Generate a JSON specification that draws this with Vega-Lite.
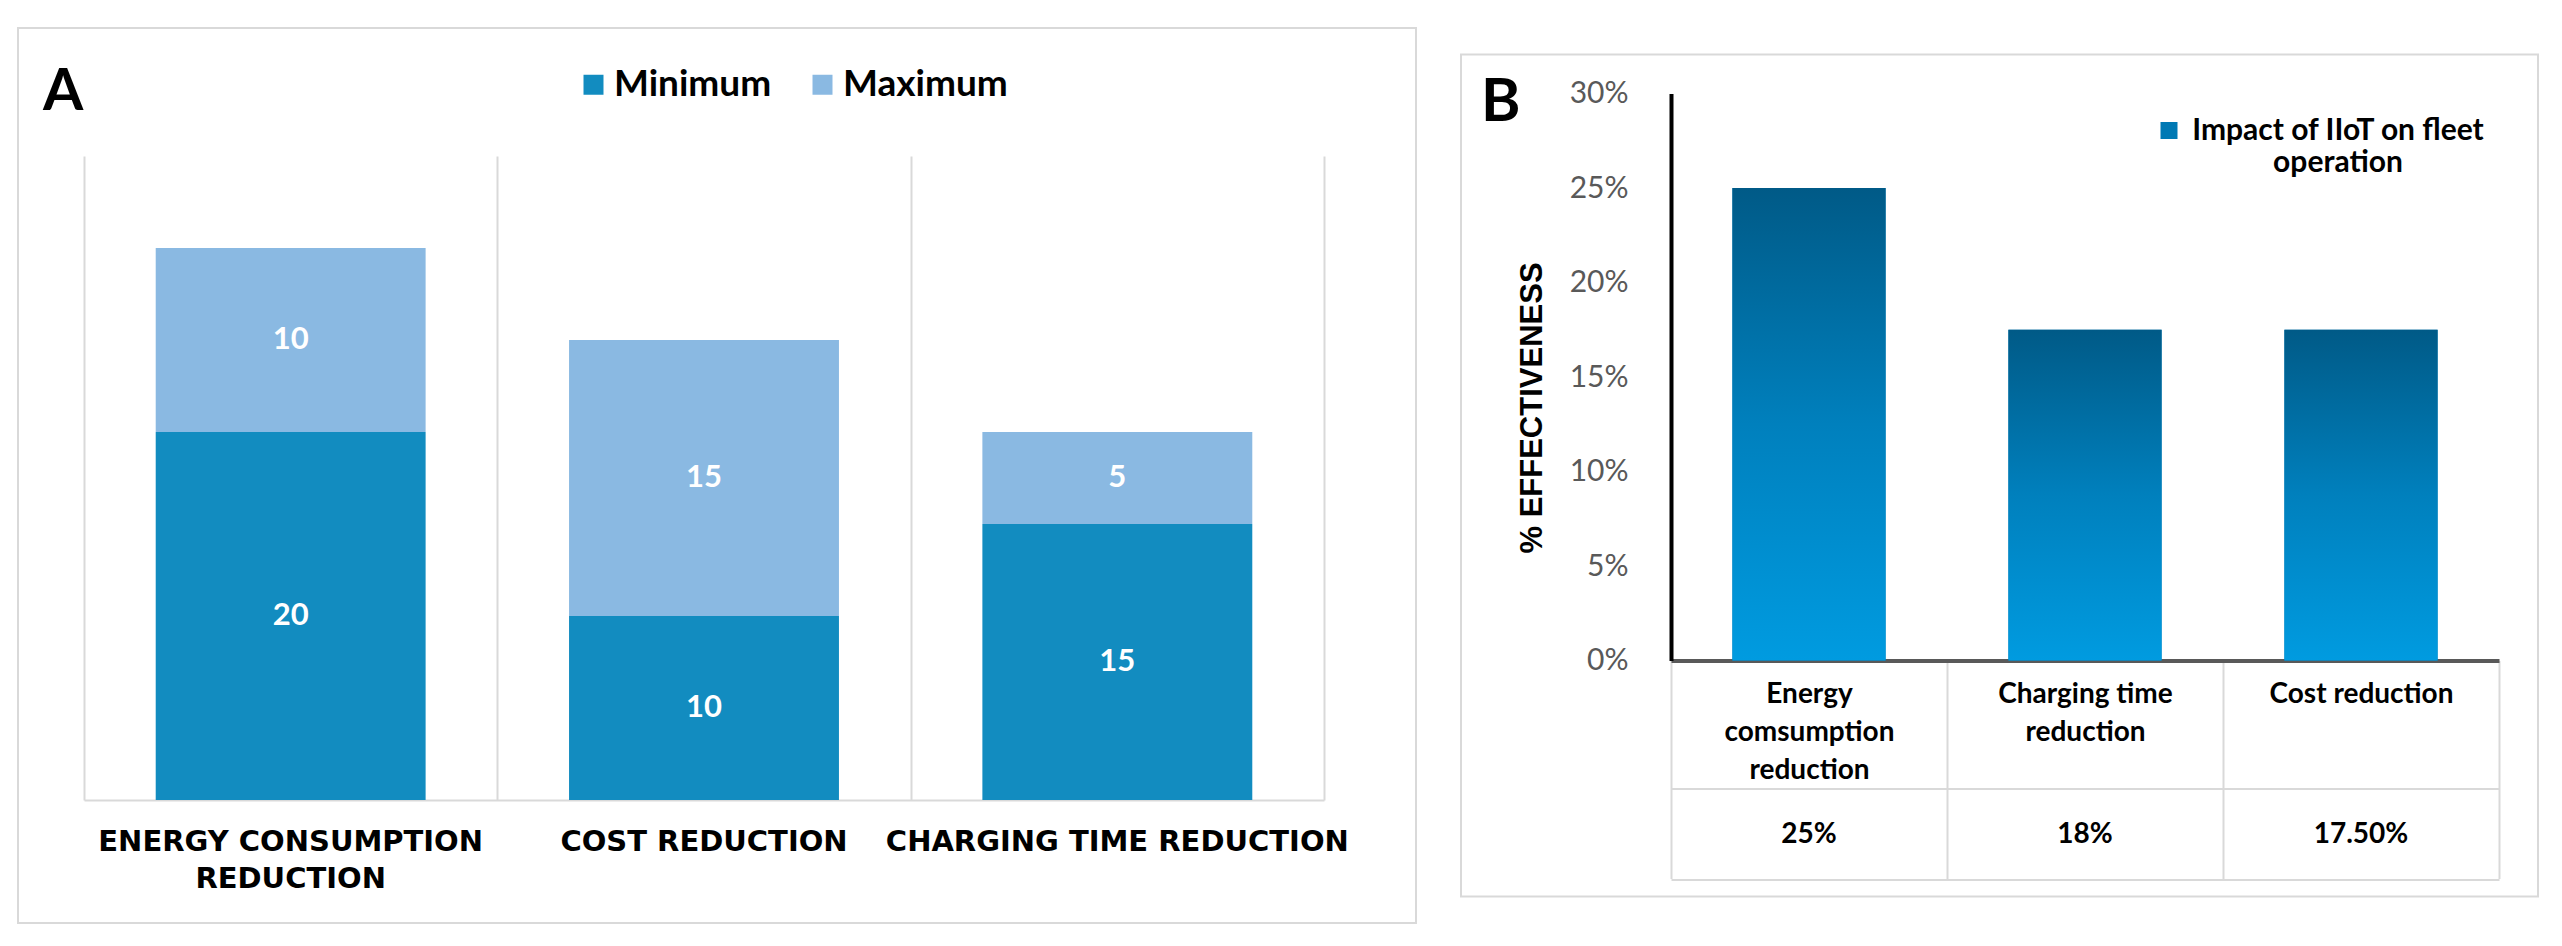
{
  "$schema": "https://vega.github.io/schema/vega-lite/v6.json",
  "padding": {"left": 17, "top": 27, "right": 0, "bottom": 0},
  "background": "white",
  "config": {"view": {"stroke": "#d9d9d9", "strokeWidth": 2}, "font": "Lato"},
  "spacing": 45,
  "bounds": "flush",
  "center": true,
  "resolve": {"scale": {"color": "independent"}, "legend": {"color": "independent"}},
  "hconcat": [
    {
      "width": 1398,
      "height": 895,
      "title": {"text": "A", "anchor": "start", "frame": "group", "font": "Lato", "fontSize": 58, "fontWeight": "bold", "color": "#000000", "offset": -36, "dx": 25, "dy": 58, "baseline": "top"},
      "data": {"values": [
        {"cat": "ENERGY CONSUMPTION REDUCTION", "series": "Minimum", "value": 20},
        {"cat": "ENERGY CONSUMPTION REDUCTION", "series": "Maximum", "value": 10},
        {"cat": "COST REDUCTION", "series": "Minimum", "value": 10},
        {"cat": "COST REDUCTION", "series": "Maximum", "value": 15},
        {"cat": "CHARGING TIME REDUCTION", "series": "Minimum", "value": 15},
        {"cat": "CHARGING TIME REDUCTION", "series": "Maximum", "value": 5}
      ]},
      "layer": [
        {
          "mark": {"type": "bar", "width": {"band": 0.653}},
          "encoding": {
            "x": {"field": "cat", "type": "nominal", "sort": null,
              "scale": {"range": [66, 1306], "paddingInner": 0, "paddingOuter": 0},
              "axis": {"orient": "bottom", "offset": -123, "title": null, "labels": false, "grid": false,
                "domain": true, "domainColor": "#d9d9d9", "domainWidth": 2,
                "ticks": true, "tickBand": "extent", "tickSize": -644, "tickColor": "#d9d9d9", "tickWidth": 2}},
            "y": {"field": "value", "type": "quantitative", "stack": "zero",
              "scale": {"domain": [0, 35], "range": [772, 128], "nice": false}, "axis": null},
            "order": {"field": "series", "sort": "descending"},
            "color": {"field": "series", "type": "nominal", "sort": ["Minimum", "Maximum"],
              "scale": {"domain": ["Minimum", "Maximum"], "range": ["#128cc0", "#8ab9e2"]},
              "legend": {"orient": "none", "legendX": 557, "legendY": 38, "direction": "horizontal", "title": null,
                "symbolType": "square", "symbolSize": 400, "symbolStrokeWidth": 0,
                "labelFont": "Lato", "labelFontWeight": "bold", "labelFontSize": 37, "labelColor": "#000000",
                "labelOffset": 2, "columnPadding": 32, "padding": 0, "labelLimit": 0}}
          }
        },
        {
          "mark": {"type": "text", "color": "#ffffff", "font": "Lato", "fontWeight": "bold", "fontSize": 31, "baseline": "middle"},
          "encoding": {
            "x": {"field": "cat", "type": "nominal", "sort": null,
              "axis": {"orient": "bottom", "offset": -123, "title": null, "domain": false, "ticks": false, "grid": false,
                "labelPadding": 27, "labelBaseline": "top", "labelAngle": 0, "labelLimit": 0,
                "labelFont": "DejaVu Sans", "labelFontWeight": "bold", "labelFontSize": 29, "labelColor": "#000000",
                "labelLineHeight": 37,
                "labelExpr": "length(datum.value) > 24 ? [slice(datum.value, 0, lastindexof(datum.value, ' ')), slice(datum.value, lastindexof(datum.value, ' ') + 1)] : datum.value"}},
            "y": {"field": "value", "type": "quantitative", "stack": "zero", "bandPosition": 0.5, "axis": null},
            "detail": {"field": "series"},
            "order": {"field": "series", "sort": "descending"},
            "text": {"field": "value", "type": "quantitative"}
          }
        }
      ],
      "resolve": {"axis": {"x": "independent"}}
    },
    {
      "width": 1077,
      "height": 842,
      "title": {"text": "B", "anchor": "start", "frame": "group", "font": "Lato", "fontSize": 60, "fontWeight": "bold", "color": "#000000", "offset": -25, "dx": 20, "dy": 54, "baseline": "top"},
      "data": {"values": [
        {"cat": "Energy comsumption reduction", "series": "Impact of IIoT on fleet operation", "value": 0.25, "label": "25%"},
        {"cat": "Charging time reduction", "series": "Impact of IIoT on fleet operation", "value": 0.175, "label": "18%"},
        {"cat": "Cost reduction", "series": "Impact of IIoT on fleet operation", "value": 0.175, "label": "17.50%"}
      ]},
      "layer": [
        {
          "mark": {"type": "bar", "width": {"band": 0.555}},
          "encoding": {
            "x": {"field": "cat", "type": "nominal", "sort": null,
              "scale": {"range": [210, 1038], "paddingInner": 0, "paddingOuter": 0},
              "axis": {"orient": "bottom", "offset": -236, "title": null, "grid": false,
                "domain": true, "domainColor": "#595959", "domainWidth": 4,
                "ticks": true, "tickBand": "extent", "tickSize": 218, "tickColor": "#d9d9d9", "tickWidth": 2,
                "labelPadding": -184, "labelBaseline": "middle", "labelAngle": 0, "labelLimit": 0,
                "labelFont": "Lato", "labelFontWeight": "bold", "labelFontSize": 28, "labelColor": "#000000", "labelLineHeight": 38,
                "labelExpr": "datum.value == 'Energy comsumption reduction' ? ['Energy', 'comsumption', 'reduction'] : datum.value == 'Charging time reduction' ? ['Charging time', 'reduction'] : datum.value"}},
            "y": {"field": "value", "type": "quantitative",
              "scale": {"domain": [0, 0.3], "range": [606, 39], "nice": false},
              "axis": {"orient": "left", "offset": -210, "title": "% EFFECTIVENESS", "grid": false,
                "values": [0, 0.05, 0.1, 0.15, 0.2, 0.25, 0.3], "format": ".0%",
                "domain": true, "domainColor": "#000000", "domainWidth": 4, "ticks": false,
                "labelFont": "Lato", "labelFontSize": 30, "labelColor": "#595959", "labelPadding": 43,
                "titleFont": "Liberation Sans", "titleFontSize": 31, "titleFontWeight": "bold", "titleColor": "#000000",
                "titleAngle": -90, "titleX": -123, "titleY": 353, "titleBaseline": "bottom", "titleAlign": "center"}},
            "color": {"field": "series", "type": "nominal",
              "scale": {"range": ["#0079b4"]},
              "legend": {"orient": "none", "legendX": 693, "legendY": 61, "title": null,
                "symbolType": "square", "symbolSize": 289, "symbolStrokeWidth": 0,
                "labelFont": "Lato", "labelFontWeight": "bold", "labelFontSize": 30, "labelColor": "#000000",
                "labelAlign": "center", "labelOffset": 154, "labelLimit": 0, "padding": 0,
                "labelExpr": "[slice(datum.value, 0, lastindexof(datum.value, ' ')), slice(datum.value, lastindexof(datum.value, ' ') + 1)]"}}
          }
        },
        {
          "mark": {"type": "bar", "width": {"band": 0.555},
            "fill": {"gradient": "linear", "x1": 0, "y1": 0, "x2": 0, "y2": 1,
              "stops": [{"offset": 0, "color": "#005a87"}, {"offset": 0.5, "color": "#0080bd"}, {"offset": 1, "color": "#009be0"}]}},
          "encoding": {
            "x": {"field": "cat", "type": "nominal", "sort": null,
              "axis": {"orient": "bottom", "offset": -108, "title": null, "labels": false, "ticks": false, "grid": false,
                "domain": true, "domainColor": "#d9d9d9", "domainWidth": 2}},
            "y": {"field": "value", "type": "quantitative", "axis": null}
          }
        },
        {
          "mark": {"type": "text", "color": "#000000", "font": "Lato", "fontWeight": "bold", "fontSize": 28, "baseline": "middle"},
          "encoding": {
            "x": {"field": "cat", "type": "nominal", "sort": null,
              "axis": {"orient": "bottom", "offset": -17, "title": null, "labels": false, "ticks": false, "grid": false,
                "domain": true, "domainColor": "#d9d9d9", "domainWidth": 2}},
            "y": {"datum": -0.0921, "type": "quantitative", "axis": null},
            "text": {"field": "label"}
          }
        }
      ],
      "resolve": {"axis": {"x": "independent", "y": "independent"}}
    }
  ]
}
